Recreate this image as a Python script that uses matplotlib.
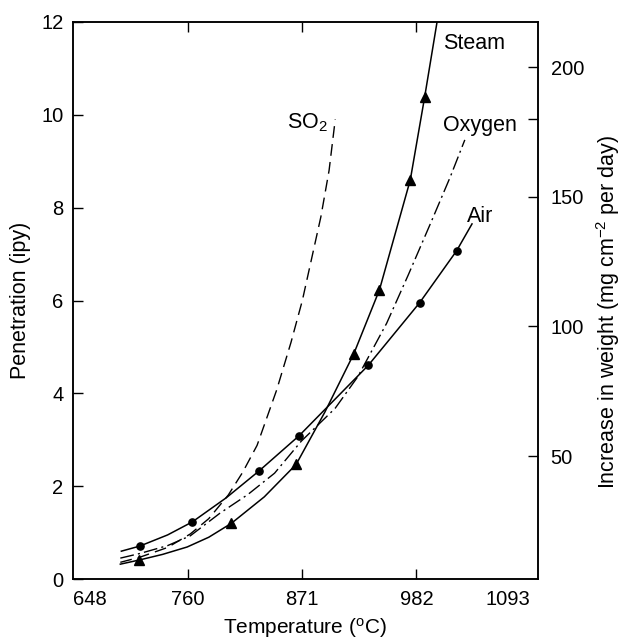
import matplotlib
matplotlib.use("Agg")
import matplotlib.pyplot as plt

plt.rcParams['font.family'] = ['Liberation Sans', 'DejaVu Sans']
plt.rcParams['font.size'] = 15.5

# values (temperature in degC, penetration in ipy)
air_temp = [695, 713, 740, 764, 797, 829, 868, 935, 985, 1021, 1036]
air_pen = [0.60, 0.71, 0.95, 1.23, 1.75, 2.33, 3.09, 4.60, 5.95, 7.07, 7.65]
air_marks = [1, 3, 5, 6, 7, 8, 9]

steam_temp = [694, 712.5, 735, 759, 780, 802, 834, 865, 893, 921, 946, 976, 990, 1002]
steam_pen = [0.32, 0.41, 0.53, 0.69, 0.90, 1.20, 1.77, 2.47, 3.60, 4.85, 6.23, 8.60, 10.39, 12.0]
steam_marks = [1, 5, 7, 9, 10, 11, 12]

oxy_temp = [694, 713, 740, 762, 791, 818, 844, 870, 903, 925, 953, 974, 997, 1015, 1029]
oxy_pen = [0.45, 0.55, 0.72, 0.93, 1.42, 1.82, 2.28, 2.97, 3.68, 4.36, 5.51, 6.55, 7.73, 8.67, 9.46]

so2_temp = [694, 713, 740, 762, 780, 799, 813, 827, 846, 860, 871, 880, 889, 897, 903]
so2_pen = [0.36, 0.47, 0.68, 0.97, 1.30, 1.81, 2.30, 2.88, 4.07, 5.10, 6.00, 6.90, 7.80, 8.80, 9.90]

x_ticks = [648, 760, 871, 982, 1093]
y_ticks = [0, 2, 4, 6, 8, 10, 12]
weight_ticks = [50, 100, 150, 200]

fig = plt.figure(figsize=(6.23, 6.43), dpi=100)
ax = fig.add_axes([0.1172, 0.0995, 0.7464, 0.8663])

ax.plot(air_temp, air_pen, color='k', lw=1.1, marker='o', ms=5.2,
        markevery=air_marks)
ax.plot(steam_temp, steam_pen, color='k', lw=1.1, marker='^', ms=7,
        markevery=steam_marks)
ax.plot(oxy_temp, oxy_pen, color='k', lw=1.0, dashes=(10, 3, 1.5, 3))
ax.plot(so2_temp, so2_pen, color='k', lw=1.0, dashes=(8.5, 4.5))

# curve names
ax.text(1007.5, 11.54, 'Steam', ha='left', va='center')
ax.text(1007.5, 9.76, 'Oxygen', ha='left', va='center')
ax.text(1031, 7.82, 'Air', ha='left', va='center')
ax.text(896, 9.82, r'SO$\mathregular{_2}$', ha='right', va='center')

ax.set_xlim(648, 1100.2)
ax.set_ylim(0, 12)
ax.set_xticks(x_ticks)
ax.set_yticks(y_ticks)
ax.tick_params(axis='x', direction='in', length=7, width=1, top=True, pad=8,
               labelsize=14.5)
ax.tick_params(axis='y', direction='in', length=7, width=1, right=False, pad=7,
               labelsize=14.5)
for t in (ax.xaxis.get_major_ticks()[0], ax.xaxis.get_major_ticks()[-1]):
    t.tick1line.set_visible(False)
    t.tick2line.set_visible(False)
labels = ax.get_xticklabels()
labels[0].set_horizontalalignment('left')
labels[-1].set_horizontalalignment('right')

ax.set_xlabel(r'Temperature ($\mathregular{^{o}}$C)', fontsize=15)
ax.xaxis.set_label_coords(0.499, -0.067)
ax.set_ylabel('Penetration (ipy)')
ax.yaxis.set_label_coords(-0.09, 0.5)

ax2 = ax.twinx()
ax2.set_ylim(2.6, 217.4)
ax2.set_yticks(weight_ticks)
ax2.set_yticks([180], minor=True)
ax2.tick_params(which='both', direction='in', length=7, width=1, pad=9,
                labelsize=14.5)
ax2.set_ylabel(r'Increase in weight (mg cm$\mathregular{^{-2}}$ per day)')
ax2.yaxis.set_label_coords(1.12, 0.48)

for a in (ax, ax2):
    for s in a.spines.values():
        s.set_linewidth(1.1)

fig.savefig('out.png', dpi=100)
